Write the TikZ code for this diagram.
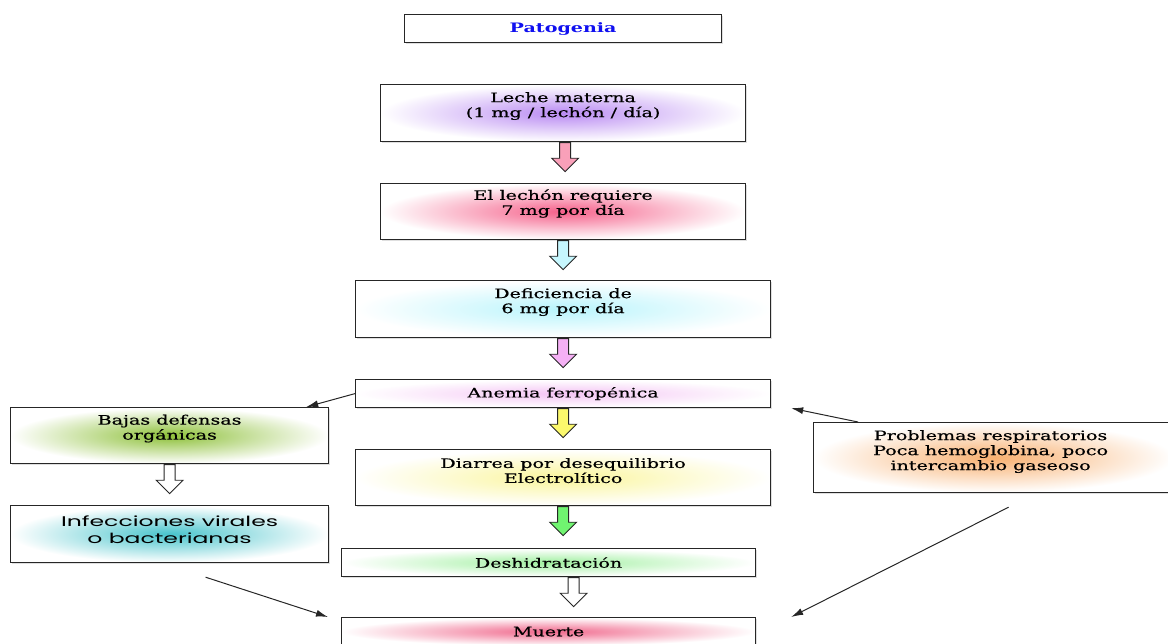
\documentclass[tikz,border=0pt]{standalone}
\usepackage{fontspec}
\setmainfont{DejaVu Serif}
\newfontfamily\serifgrueso{DejaVu Serif}[FakeBold=0.4]
\newfontfamily\gotica{Poppins}
\usepackage{xcolor}
\usetikzlibrary{positioning}
\usetikzlibrary{arrows.meta}
\usetikzlibrary{shapes.arrows}
\usetikzlibrary{shadows}
\definecolor{lila}{HTML}{B98AF2}
\definecolor{rosa}{HTML}{F5608A}
\definecolor{celeste}{HTML}{B8F4FC}
\definecolor{malva}{HTML}{F4C4F4}
\definecolor{oliva}{HTML}{8DC038}
\definecolor{amarillo}{HTML}{FAF59A}
\definecolor{turquesa}{HTML}{48C4CC}
\definecolor{naranja}{HTML}{F8B070}
\definecolor{verde}{HTML}{A0F0A0}
\definecolor{carmin}{HTML}{F0688C}
\definecolor{titulo}{HTML}{1010F0}
\tikzset{caja/.style={draw=black!85, line width=1.2pt, anchor=north west,
inner sep=0pt, inner color=#1, outer color=white,
drop shadow={shadow xshift=1.5pt, shadow yshift=-1.5pt, opacity=0.25}},
texto/.style={align=center, xscale=1.47, inner sep=0pt,
font=\fontsize{13}{15}\selectfont\serifgrueso},
flecha/.style={single arrow, draw=black!85, line width=0.9pt, rotate=-90,
anchor=tail, minimum height=29pt, minimum width=26pt, inner sep=5pt,
single arrow head extend=8pt, fill=#1},
linea/.style={draw=black!85, line width=1pt, -{Latex[length=12pt,width=7pt]}}}

\begin{document}
\begin{tikzpicture}[x=1pt, y=-1pt]
	\useasboundingbox (0,0) rectangle (1168,643);
	\node[caja=white, minimum width=317pt, minimum height=28pt] (pato) at (404,14) {};
	\node[caja=lila, minimum width=365pt, minimum height=57pt] (leche) at (380,84) {};
	\node[caja=rosa, minimum width=365pt, minimum height=56pt] (lechon) at (380,183) {};
	\node[caja=celeste, minimum width=415pt, minimum height=57pt] (defic) at (355,280) {};
	\node[caja=malva, minimum width=415pt, minimum height=28pt] (anemia) at (355,379) {};
	\node[caja=amarillo, minimum width=415pt, minimum height=56pt] (diarrea) at (355,449) {};
	\node[caja=verde, minimum width=414pt, minimum height=28pt] (deshid) at (341,548) {};
	\node[caja=carmin, minimum width=414pt, minimum height=28pt] (muerte) at (341,617) {};
	\node[caja=oliva, minimum width=318pt, minimum height=56pt] (bajas) at (10,407) {};
	\node[caja=turquesa, minimum width=318pt, minimum height=57pt] (infec) at (10,505) {};
	\node[caja=naranja, minimum width=360pt, minimum height=70pt] (probl) at (813,422) {};

	\node[texto, font=\fontsize{13}{15}\selectfont\bfseries, text=titulo] (patoT) at (pato) {Patogenia};
	\node[texto] (lecheT) at ([yshift=7pt]leche.center) {Leche materna\\(1 mg / lechón / día)};
	\node[texto] (lechonT) at ([yshift=8pt]lechon.center) {El lechón requiere\\7 mg por día};
	\node[texto] (deficT) at ([yshift=7pt]defic.center) {Deficiencia de\\6 mg por día};
	\node[texto] (anemiaT) at (anemia) {Anemia ferropénica};
	\node[texto] (diarreaT) at ([yshift=7pt]diarrea.center) {Diarrea por desequilibrio\\Electrolítico};
	\node[texto] (deshidT) at (deshid) {Deshidratación};
	\node[texto] (muerteT) at (muerte) {Muerte};
	\node[texto] (bajasT) at ([yshift=7pt]bajas.center) {Bajas defensas\\orgánicas};
	\node[texto, xscale=1.68/1.47, font=\fontsize{14}{17}\selectfont\gotica] (infecT) at ([yshift=4pt]infec.center) {Infecciones virales\\o bacterianas};
	\node[texto] (problT) at ([yshift=6pt,xshift=-3pt]probl.center) {Problemas respiratorios\\Poca hemoglobina, poco\\intercambio gaseoso};

	\node[flecha=rosa!60] (f1) at ([xshift=2pt]leche.south) {};
	\node[flecha=celeste!80] (f2) at (lechon.south) {};
	\node[flecha=malva!90!magenta] (f3) at (defic.south) {};
	\node[flecha=amarillo!70!yellow] (f4) at (anemia.south) {};
	\node[flecha=verde!70!green] (f5) at (diarrea.south) {};
	\node[flecha=white] (f6) at ([xshift=25pt]deshid.south) {};
	\node[flecha=white] (f7) at (bajas.south) {};

	\draw[linea] (anemia.west) -- ([xshift=-23pt]bajas.north east);
	\draw[linea] ([xshift=45pt]probl.north west) -- ([xshift=20pt]anemia.south east);
	\draw[linea] ([xshift=36pt,yshift=-14pt]infec.south) -- ([xshift=-13pt]muerte.north west);
	\draw[linea] ([xshift=15pt,yshift=-14pt]probl.south) -- ([xshift=35pt]muerte.north east);
\end{tikzpicture}
\end{document}
